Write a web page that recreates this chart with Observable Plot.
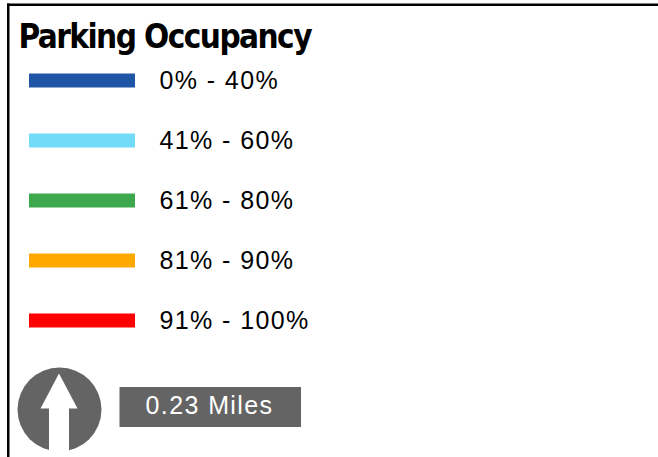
<!DOCTYPE html>
<html>
<head>
<meta charset="utf-8">
<script src="https://cdn.jsdelivr.net/npm/d3@7"></script>
<script src="https://cdn.jsdelivr.net/npm/@observablehq/plot@0.6"></script>
<style>
  html, body { margin: 0; padding: 0; background: #fff; }
  #chart svg { display: block; }
</style>
</head>
<body>
<div id="chart"></div>
<script>
// Legend data
const titleText = "Parking Occupancy";
const ranges = ["0% - 40%", "41% - 60%", "61% - 80%", "81% - 90%", "91% - 100%"];
const colors = ["#1f55a5", "#72dcf8", "#3ea94c", "#fea800", "#ff0000"];
const scaleDistance = 0.23;
const scaleUnit = "Miles";

const gray = "#646464";
const arrowSymbol = {
  draw(ctx) {
    ctx.moveTo(0, -36);
    ctx.lineTo(18.5, -1);
    ctx.lineTo(10, -1);
    ctx.lineTo(10, 46);
    ctx.lineTo(-10, 46);
    ctx.lineTo(-10, -1);
    ctx.lineTo(-18.5, -1);
    ctx.closePath();
  }
};

const W = 658, H = 457;
const chart = Plot.plot({
  width: W,
  height: H,
  margin: 0,
  style: {background: "#fff", overflow: "visible"},
  x: {domain: [0, W], range: [0, W], axis: null},
  y: {type: "point", domain: ranges, range: [79.5, 321], padding: 0, axis: null},
  color: {domain: ranges, range: colors},
  marks: [
    // border (top and left)
    Plot.rect([0], {x1: 7, x2: W, insetTop: 3.5, insetBottom: H - 6, fill: "#000"}),
    Plot.rect([0], {x1: 7, x2: 9.5, insetTop: 3.5, insetBottom: 0, fill: "#000"}),
    // title
    Plot.text([titleText], {
      x: 18, frameAnchor: "top", dy: 37, lineAnchor: "middle", text: d => d, textAnchor: "start",
      fontSize: 33, fontWeight: "bold", fill: "#000",
      fontFamily: "'Liberation Sans Narrow', 'Arial Narrow', 'DejaVu Sans Condensed', sans-serif"
    }),
    // swatches
    Plot.ruleY(ranges, {y: d => d, x1: 29, x2: 135, stroke: d => d, strokeWidth: 14, strokeLinecap: "butt"}),
    // labels
    Plot.text(ranges, {
      y: d => d, x: 159, text: d => d, textAnchor: "start", lineAnchor: "middle",
      fontSize: 25, fill: "#000",
      fontFamily: "'Liberation Sans', Arial, sans-serif"
    }),
    // north arrow
    Plot.dot([0], {x: 59, frameAnchor: "bottom", dy: -48, r: 42, fill: gray, stroke: "none"}),
    Plot.dot([0], {x: 58.5, frameAnchor: "bottom", dy: -48, r: 10, symbol: arrowSymbol, fill: "#fff", stroke: "none"}),
    // scale bar
    Plot.rect([0], {x1: 119.5, x2: 301, insetTop: 387, insetBottom: H - 427, fill: gray}),
    Plot.text([`${scaleDistance} ${scaleUnit}`], {
      x: 209, frameAnchor: "bottom", dy: -51.5, lineAnchor: "middle", text: d => d, textAnchor: "middle",
      fontSize: 25, fill: "#fff",
      fontFamily: "'Liberation Sans', Arial, sans-serif"
    })
  ]
});
// wider tracking for the regular-weight labels, as in the reference
chart.querySelectorAll("g[aria-label='text']").forEach(g => {
  if (g.getAttribute("font-size") === "25") g.setAttribute("letter-spacing", "1.4");
});
document.getElementById("chart").appendChild(chart);
// stretch title tracking to the reference width
const titleNode = [...chart.querySelectorAll("text")].find(t => t.textContent === titleText);
if (titleNode) {
  const w = titleNode.getComputedTextLength();
  const target = 294;
  const n = titleText.length - 1;
  titleNode.setAttribute("letter-spacing", ((target - w) / n).toFixed(2));
}
</script>
</body>
</html>
